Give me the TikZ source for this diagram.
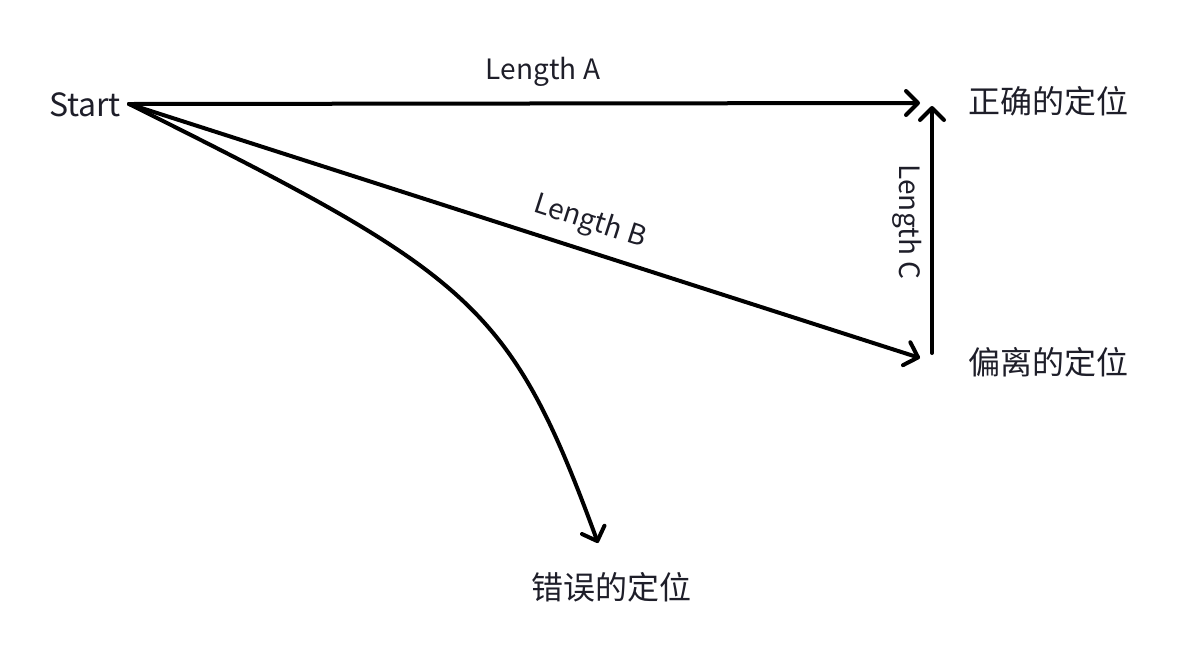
\documentclass[tikz,border=0pt]{standalone}
\usepackage{fontspec}
\setmainfont{Noto Sans CJK SC}
\usetikzlibrary{arrows.meta}
\definecolor{ink}{RGB}{30,30,41}

\begin{document}
\begin{tikzpicture}[x=0.75pt,y=0.75pt,yscale=-1,xscale=1,
  leg/.style={draw=black, line width=3pt, line cap=round, line join=round, -{Straight Barb[length=9pt,width=18pt,round]}},
  place/.style={text=ink, font=\fontsize{24}{28}\selectfont, inner sep=0pt},
  lbl/.style={text=ink, font=\fontsize{21}{25}\selectfont, inner sep=0pt}]
\useasboundingbox (0,0) rectangle (1178,658);

%Text Nodes
\node [place] (start) at (85,105) {Start};
\node [place] (right) at (1048,101) {正确的定位};
\node [place] (off) at (1048,362) {偏离的定位};
\node [place] (wrong) at (611,587) {错误的定位};

%Connector Ends
\coordinate (o) at (129,104);
\coordinate (ta) at (920,103);
\coordinate (tb) at (920,358);
\coordinate (tw) at (598,543);
\coordinate (bc) at (932,353);
\coordinate (tc) at (932,106);

%Straight Lines
\draw [leg] (o) -- (ta);
%Straight Lines
\draw [leg] (o) -- (tb);
%Curve Lines
\draw [leg] (o) .. controls (472,275) and (510,303) .. (tw);
%Straight Lines
\draw [leg] (bc) -- (tc);

%Labels
\node [lbl] (lena) at (543,72) {Length A};
\node [lbl, rotate=-17.85] (lenb) at (590,222) {Length B};
\node [lbl, rotate=-90] (lenc) at (907,222) {Length C};

\end{tikzpicture}
\end{document}
